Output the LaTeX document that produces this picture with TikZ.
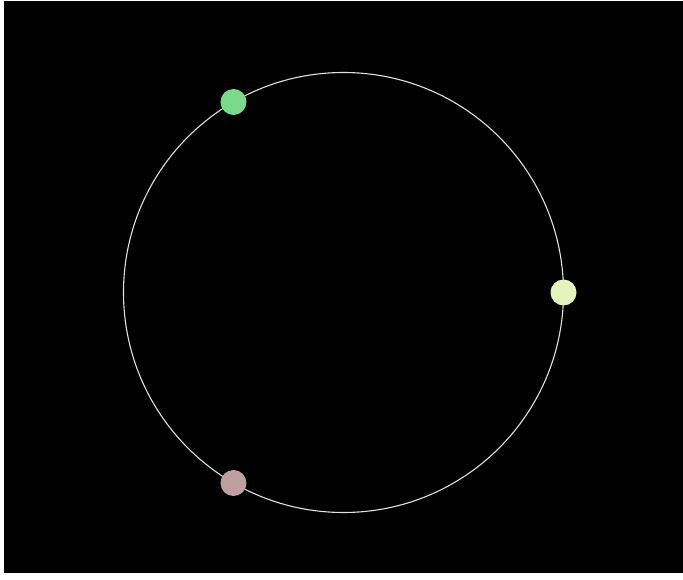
\documentclass[tikz,border=0pt]{standalone}
\usetikzlibrary{calc}
\definecolor{dotgreen}{RGB}{122,218,140}
\definecolor{dotyellow}{RGB}{228,244,188}
\definecolor{dotpink}{RGB}{190,160,160}
\definecolor{ringgray}{RGB}{225,225,225}
\tikzset{dot/.style={circle,inner sep=0pt,minimum size=26pt,draw=none}}
\begin{document}
\begin{tikzpicture}[x=1pt,y=1pt]
\useasboundingbox (0,0) rectangle (683,579);
\fill[white] (0,0) rectangle (683,579);
\fill[black] (4,6) rectangle (683,578);
\coordinate (c) at (343.5,286.5);
\draw[ringgray,line width=1.1pt] (c) circle (220);
\node[dot,fill=dotgreen] (g) at ($(c)+(120:220)$) {};
\node[dot,fill=dotyellow] (y) at ($(c)+(0:220)$) {};
\node[dot,fill=dotpink] (p) at ($(c)+(240:220)$) {};
\end{tikzpicture}
\end{document}
